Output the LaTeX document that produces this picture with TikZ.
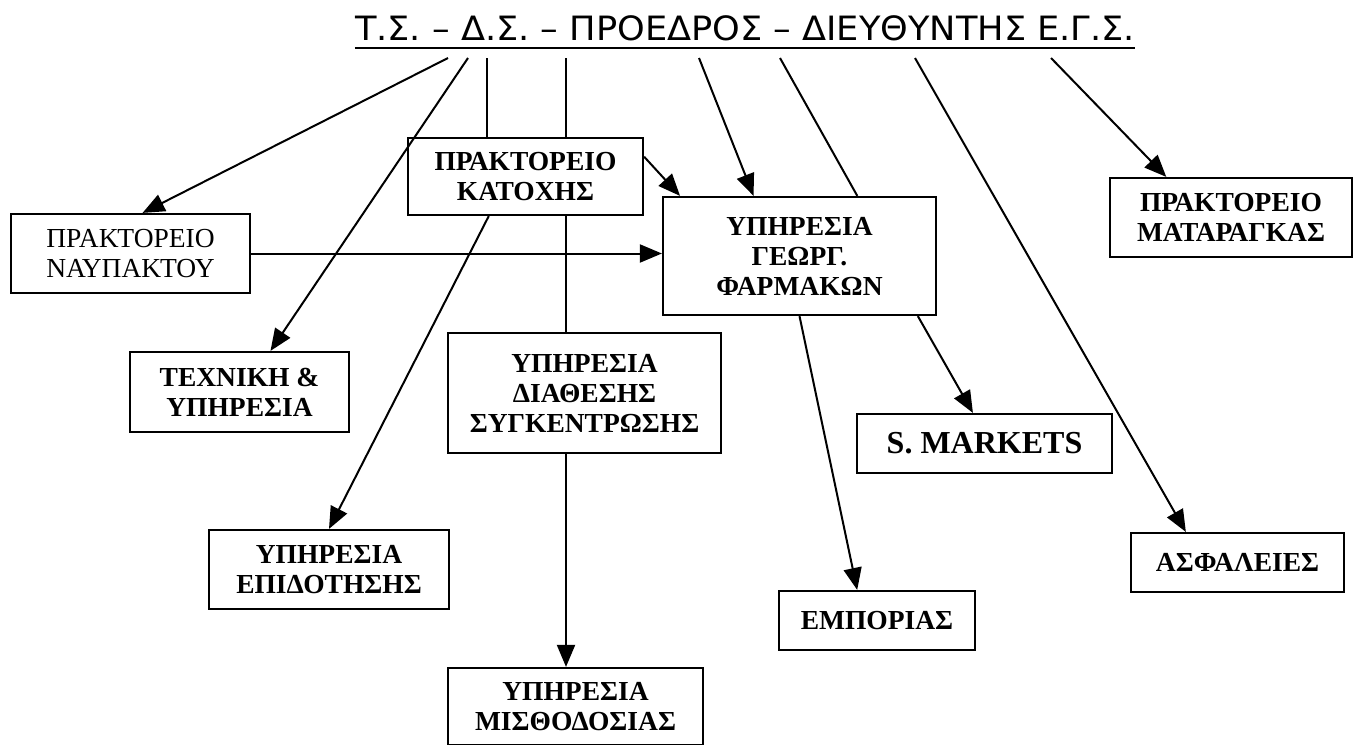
\documentclass[tikz,border=0pt]{standalone}
\usepackage{fontspec}
\setmainfont{Liberation Serif}
\newfontfamily\titlefont[FakeStretch=1.05]{DejaVu Sans}
\usetikzlibrary{positioning,calc,arrows.meta}
\tikzset{block/.style={draw, line width=2.2pt, align=center, inner sep=0pt, font=\bfseries\fontsize{27.5}{30}\selectfont},
line/.style={line width=2pt, -{Triangle[length=22pt,width=18pt]}},
link/.style={line width=2pt}
}

\begin{document}
\begin{tikzpicture}[x=1pt, y=-1pt]
    \useasboundingbox (0,0) rectangle (1354,744);
    % Nodes
    \node [inner sep=0pt, anchor=base, font=\titlefont\fontsize{33.5}{38}\selectfont] (board) at (745,40) {Τ.Σ. – Δ.Σ. – ΠΡΟΕΔΡΟΣ – ΔΙΕΥΘΥΝΤΗΣ Ε.Γ.Σ.};
    \draw [line width=2.2pt] ([yshift=-8pt]board.base west) -- ([yshift=-8pt]board.base east);
    \node [block, font=\fontsize{27.5}{30}\selectfont, minimum width=239pt, minimum height=79pt] (nafpaktos) at (130.5,253.5) {ΠΡΑΚΤΟΡΕΙΟ\\ΝΑΥΠΑΚΤΟΥ};
    \node [block, minimum width=235pt, minimum height=77pt] (katoxi) at (525.5,176.5) {ΠΡΑΚΤΟΡΕΙΟ\\ΚΑΤΟΧΗΣ};
    \node [block, minimum width=273pt, minimum height=118pt] (farmaka) at (799.5,256) {ΥΠΗΡΕΣΙΑ\\ΓΕΩΡΓ.\\ΦΑΡΜΑΚΩΝ};
    \node [block, minimum width=242pt, minimum height=79pt] (mataragkas) at (1231,217.5) {ΠΡΑΚΤΟΡΕΙΟ\\ΜΑΤΑΡΑΓΚΑΣ};
    \node [block, minimum width=219pt, minimum height=80pt] (techniki) at (239.5,392) {ΤΕΧΝΙΚΗ \&\\ΥΠΗΡΕΣΙΑ};
    \node [block, minimum width=273pt, minimum height=120pt] (diathesi) at (584.5,393) {ΥΠΗΡΕΣΙΑ\\ΔΙΑΘΕΣΗΣ\\ΣΥΓΚΕΝΤΡΩΣΗΣ};
    \node [block, minimum width=240pt, minimum height=79pt] (epidotisi) at (329,569.5) {ΥΠΗΡΕΣΙΑ\\ΕΠΙΔΟΤΗΣΗΣ};
    \node [block, minimum width=255pt, minimum height=77pt] (misthodosia) at (575.5,706.5) {ΥΠΗΡΕΣΙΑ\\ΜΙΣΘΟΔΟΣΙΑΣ};
    \node [block, font=\bfseries\fontsize{32}{36}\selectfont, minimum width=255pt, minimum height=59pt] (markets) at (984.5,443.5) {S. MARKETS};
    \node [block, minimum width=196pt, minimum height=59pt] (emporia) at (877,620.5) {ΕΜΠΟΡΙΑΣ};
    \node [block, minimum width=213pt, minimum height=59pt] (asfaleies) at (1237.5,562.5) {ΑΣΦΑΛΕΙΕΣ};
    \coordinate (b1) at (448,58);
    \coordinate (b2) at (468,58);
    \coordinate (b3) at (487,58);
    \coordinate (b4) at (566,58);
    \coordinate (b5) at (699,58);
    \coordinate (b6) at (780,58);
    \coordinate (b7) at (915,58);
    \coordinate (b8) at (1051,58);
    % Arrows
    \draw [line] (b1) -- ($(nafpaktos.north west)!0.55!(nafpaktos.north east)$);
    \draw [line] (b2) -- ($(techniki.north west)!0.64!(techniki.north east)$);
    \draw [link] (b3) -- (b3 |- katoxi.north);
    \draw [link] (b4) -- (b4 |- katoxi.north);
    \draw [link] (b4 |- katoxi.south) -- (b4 |- diathesi.north);
    \draw [line] (b4 |- diathesi.south) -- (b4 |- misthodosia.north);
    \draw [line] ($(katoxi.south west)!0.345!(katoxi.south east)$) -- (epidotisi.north);
    \draw [line] ($(katoxi.north east)!0.25!(katoxi.south east)$) -- ($(farmaka.north west)!0.066!(farmaka.north east)$);
    \draw [line] (nafpaktos.east) -- (nafpaktos.east -| farmaka.west);
    \draw [line] (b5) -- ($(farmaka.north west)!0.333!(farmaka.north east)$);
    \draw [link] (b6) -- ($(farmaka.north west)!0.71!(farmaka.north east)$);
    \draw [line] ($(farmaka.south west)!0.93!(farmaka.south east)$) -- ($(markets.north west)!0.455!(markets.north east)$);
    \draw [line] (b7) -- ($(asfaleies.north west)!0.26!(asfaleies.north east)$);
    \draw [line] (b8) -- ($(mataragkas.north west)!0.235!(mataragkas.north east)$);
    \draw [line] (farmaka.south) -- ($(emporia.north west)!0.40!(emporia.north east)$);
  \end{tikzpicture}
\end{document}
